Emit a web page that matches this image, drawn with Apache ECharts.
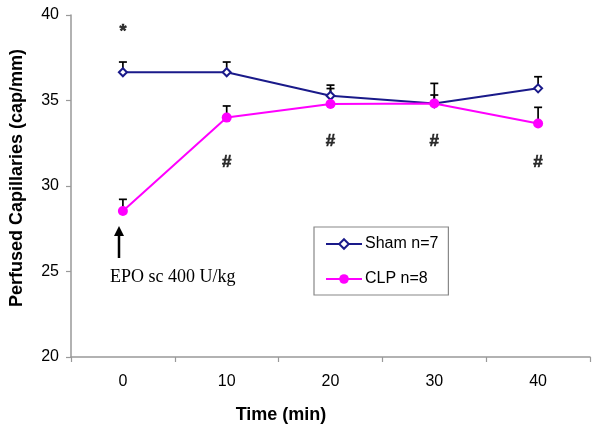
<!DOCTYPE html>
<html>
<head>
<meta charset="utf-8">
<script src="https://cdn.jsdelivr.net/npm/echarts@6/dist/echarts.min.js"></script>
<style>html,body{margin:0;padding:0;background:#fff}#c{width:600px;height:432px}</style>
</head>
<body>
<div id="c"></div>
<script>
const categories = ['0', '10', '20', '30', '40'];
const shamValues = [36.65, 36.65, 35.28, 34.83, 35.71];
const shamErrors = [0.6, 0.6, 0.62, 1.17, 0.68];
const clpValues = [28.54, 34.0, 34.8, 34.83, 33.66];
const clpErrors = [0.68, 0.68, 0.9, 0.49, 0.94];
const yTicks = { min: 20, max: 40, interval: 5 };
const starMarks = [[0, 39.0, '*']];
const hashMarks = [[1, 31.4, '#'], [2, 32.6, '#'], [3, 32.6, '#'], [4, 31.4, '#']];
const shamName = 'Sham n=7';
const clpName = 'CLP n=8';

const chart = echarts.init(document.getElementById('c'));

function errRender(params, api) {
  const p = api.coord([api.value(0), api.value(1)]);
  const t = api.coord([api.value(0), api.value(1) + api.value(2)]);
  const st = { stroke: '#000', lineWidth: 1.7 };
  return { type: 'group', children: [
    { type: 'line', shape: { x1: p[0], y1: p[1], x2: p[0], y2: t[1] }, style: st },
    { type: 'line', shape: { x1: p[0] - 4, y1: t[1], x2: p[0] + 4, y2: t[1] }, style: st }
  ]};
}

const annot = (arr, fs) => {
  const lab = { show: true, position: 'inside', color: '#000', fontFamily: 'Liberation Sans', fontWeight: 'bold', fontSize: fs,
                textBorderColor: '#000', textBorderWidth: 0.6 };
  return {
    type: 'scatter', symbolSize: 0, silent: true, z: 5,
    data: arr.map(a => ({ value: [a[0], a[1]], label: Object.assign({}, lab, { formatter: a[2] }) })),
    label: lab
  };
};

chart.setOption({
  animation: false,
  backgroundColor: '#fff',
  grid: { left: 71, right: 10, top: 15, bottom: 75 },
  xAxis: {
    type: 'category', data: categories, boundaryGap: true,
    axisLine: { lineStyle: { color: '#999', width: 1.5 } },
    axisTick: { show: true, length: 5, lineStyle: { color: '#999', width: 1.2 } },
    axisLabel: { color: '#000', fontSize: 16, fontFamily: 'Liberation Sans, Arial', margin: 17 },
    splitLine: { show: false }
  },
  yAxis: {
    type: 'value', min: yTicks.min, max: yTicks.max, interval: yTicks.interval,
    axisLine: { show: true, lineStyle: { color: '#999', width: 1.5 } },
    axisTick: { show: true, length: 5, lineStyle: { color: '#999', width: 1.2 } },
    axisLabel: { color: '#000', fontSize: 16, fontFamily: 'Liberation Sans, Arial', margin: 12 },
    splitLine: { show: false }
  },
  legend: {
    orient: 'vertical', left: 314, top: 227,
    padding: [9, 10, 8, 11], itemWidth: 36, itemHeight: 12, itemGap: 19,
    borderColor: '#888', borderWidth: 1.2, backgroundColor: '#fff',
    textStyle: { color: '#000', fontSize: 16, fontFamily: 'Liberation Sans, Arial', padding: [0, 0, 0, -2] },
    data: [shamName, clpName]
  },
  series: [
    { type: 'custom', name: 'errS', renderItem: errRender, z: 1, silent: true,
      data: shamValues.map((v, i) => [i, v, shamErrors[i]]) },
    { type: 'custom', name: 'errC', renderItem: errRender, z: 1, silent: true,
      data: clpValues.map((v, i) => [i, v, clpErrors[i]]) },
    { type: 'line', name: shamName, data: shamValues, z: 3,
      symbol: 'diamond', symbolSize: 8, showSymbol: true,
      lineStyle: { color: '#1a1a8a', width: 2 },
      itemStyle: { color: '#fff', borderColor: '#1a1a8a', borderWidth: 2 } },
    { type: 'line', name: clpName, data: clpValues, z: 4,
      symbol: 'circle', symbolSize: 10,
      lineStyle: { color: '#ff00ff', width: 2 },
      itemStyle: { color: '#ff00ff' } },
    annot(starMarks, 18),
    annot(hashMarks, 17)
  ],
  graphic: [
    { type: 'line', shape: { x1: 119, y1: 234, x2: 119, y2: 258 }, style: { stroke: '#000', lineWidth: 2.5 } },
    { type: 'polygon', shape: { points: [[119, 226], [114, 236], [124, 236]] }, style: { fill: '#000' } },
    { type: 'text', left: 110, top: 268, style: { text: 'EPO sc 400 U/kg', fill: '#000', font: '18px "Liberation Serif", "Times New Roman", serif' } },
    { type: 'text', x: 281, y: 415, style: { text: 'Time (min)', fill: '#000', font: 'bold 18px "Liberation Sans", Arial', align: 'center', verticalAlign: 'middle' } },
    { type: 'text', x: 17, y: 178, rotation: Math.PI / 2, style: { text: 'Perfused Capillaries (cap/mm)', fill: '#000', font: 'bold 18px "Liberation Sans", Arial', align: 'center', verticalAlign: 'middle' } }
  ]
});
</script>
</body>
</html>
